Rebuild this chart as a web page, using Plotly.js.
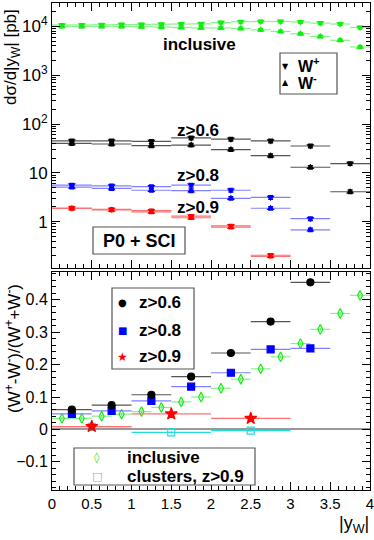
<!DOCTYPE html>
<html>
<head>
<meta charset="utf-8">
<script src="https://cdn.plot.ly/plotly-3.0.1.min.js"></script>
<style>html,body{margin:0;padding:0;background:#fff;}#chart{width:374px;height:540px;}</style>
</head>
<body>
<div id="chart"></div>
<script>
// ---------- data ----------
const xIncl = [0.125, 0.375, 0.625, 0.875, 1.125, 1.375, 1.625, 1.875, 2.125, 2.375, 2.625, 2.875, 3.125, 3.375, 3.625, 3.875];
const inclWp = [1.07e4, 1.07e4, 1.08e4, 1.09e4, 1.10e4, 1.11e4, 1.12e4, 1.13e4, 1.20e4, 1.25e4, 1.26e4, 1.26e4, 1.23e4, 1.17e4, 1.12e4, 9.5e3];
const inclWm = [1.00e4, 1.00e4, 1.00e4, 1.00e4, 9.9e3, 9.7e3, 9.5e3, 9.3e3, 9.3e3, 9.1e3, 8.5e3, 7.9e3, 7.1e3, 6.2e3, 5.2e3, 3.8e3];

const xHalf = [0.25, 0.75, 1.25, 1.75, 2.25, 2.75, 3.25, 3.75];
const z06Wp = [45, 45, 44, 52, 49, 45, 35.5, 15.5];
const z06Wm = [40, 39, 36, 37, 30, 22.5, 13, 4.1];
const z08Wp = [5.6, 5.4, 5.2, 5.6, 4.4, 3.14, 1.15];
const z08Wm = [5.1, 4.8, 4.4, 4.3, 3.0, 1.88, 0.68];
const z09Wp = [1.9, 1.78, 1.68, 1.3, 0.82, 0.205];
const z09Wm = [1.86, 1.74, 1.58, 1.2, 0.77, 0.195];

// asymmetries
const asymZ06 = [0.061, 0.075, 0.107, 0.163, 0.236, 0.333, 0.454];
const asymZ08 = [0.048, 0.057, 0.088, 0.132, 0.175, 0.247, 0.250];
const xUnit = [0.5, 1.5, 2.5];
const asymZ09 = [0.009, 0.048, 0.034];
const asymIncl = [0.034, 0.034, 0.041, 0.047, 0.055, 0.068, 0.085, 0.100, 0.127, 0.155, 0.187, 0.224, 0.265, 0.309, 0.358, 0.414];
const asymClus = [0.008, -0.009, -0.004];

// tick labels
const xTickVals = [0, 0.5, 1, 1.5, 2, 2.5, 3, 3.5, 4];
const xTickText = ['0', '0.5', '1', '1.5', '2', '2.5', '3', '3.5', '4'];
const logTickVals = [1, 10, 100, 1000, 10000];
const logTickText = ['1', '10', '10<sup>2</sup>', '10<sup>3</sup>', '10<sup>4</sup>'];

// ---------- helpers ----------
const FONT = 'Liberation Sans, Arial, Helvetica, sans-serif';
const px = v => (v - 52) / 318;
const py = v => (490 - v) / 487;
const GREEN = '#11ee11', GREEN_L = '#88f088';
const BLUE = '#0000ff', BLUE_L = '#8080ff';
const RED = '#ff0000', RED_L = '#ff7070';
const CYAN = '#22dddd';

function topTrace(x, y, sym, col, colL, hw, pct) {
  return {
    x: x.slice(0, y.length), y: y, xaxis: 'x2', yaxis: 'y2', mode: 'markers', type: 'scatter',
    marker: {symbol: sym, size: 7, color: col},
    error_x: {type: 'constant', value: hw, width: 0, thickness: 1.2, color: colL},
    error_y: {type: 'percent', value: pct, width: 2.5, thickness: 1.5, color: col},
    showlegend: false, hoverinfo: 'skip'
  };
}
function botTrace(x, y, sym, col, colL, hw, size, ey) {
  return {
    x: x.slice(0, y.length), y: y, xaxis: 'x', yaxis: 'y', mode: 'markers', type: 'scatter',
    marker: {symbol: sym, size: size, color: col, line: {color: col, width: 1.2}},
    error_x: {type: 'constant', value: hw, width: 0, thickness: 1.2, color: colL},
    error_y: {type: 'constant', value: ey, width: 0, thickness: 1, color: col},
    showlegend: false, hoverinfo: 'skip'
  };
}

const traces = [
  topTrace(xIncl, inclWp, 'triangle-down', GREEN, GREEN_L, 0.125, 6),
  topTrace(xIncl, inclWm, 'triangle-up', GREEN, GREEN_L, 0.125, 6),
  topTrace(xHalf, z06Wp, 'triangle-down', '#000000', '#555555', 0.25, 8),
  topTrace(xHalf, z06Wm, 'triangle-up', '#000000', '#555555', 0.25, 8),
  topTrace(xHalf, z08Wp, 'triangle-down', BLUE, BLUE_L, 0.25, 8),
  topTrace(xHalf, z08Wm, 'triangle-up', BLUE, BLUE_L, 0.25, 8),
  topTrace(xHalf, z09Wp, 'triangle-down', RED, RED_L, 0.25, 7),
  topTrace(xHalf, z09Wm, 'triangle-up', RED, RED_L, 0.25, 7),

  botTrace(xIncl, asymIncl, 'diamond-tall-open', GREEN, GREEN_L, 0.125, 7, 0.004),
  botTrace(xUnit, asymClus, 'square-open', CYAN, CYAN, 0.5, 7, 0.004),
  botTrace(xUnit, asymZ09, 'star', RED, RED_L, 0.5, 9, 0.005),
  botTrace(xHalf, asymZ08, 'square', BLUE, BLUE_L, 0.25, 7, 0.004),
  botTrace(xHalf, asymZ06, 'circle', '#000000', '#555555', 0.25, 7, 0.004)
];

// minor ticks on log axis
const logMinor = [];
[0.1, 1, 10, 100, 1000, 10000].forEach(d => { for (let k = 2; k <= 9; k++) logMinor.push(d * k); });

const axisCommon = {
  showline: true, linecolor: '#000', linewidth: 1, mirror: 'allticks',
  ticks: 'inside', tickcolor: '#000', ticklen: 8, tickwidth: 1,
  showgrid: false, zeroline: false, ticklabeloverflow: 'allow',
  tickfont: {family: FONT, size: 16, color: '#000'}
};

const layout = {
  width: 374, height: 540,
  margin: {l: 52, r: 4, t: 3, b: 50},
  paper_bgcolor: '#fff', plot_bgcolor: '#fff',
  showlegend: false,
  font: {family: FONT, color: '#000'},
  xaxis: Object.assign({}, axisCommon, {
    anchor: 'y', range: [0, 4],
    tickmode: 'array', tickvals: xTickVals, ticktext: xTickText,
    minor: {dtick: 0.1, tick0: 0, ticks: 'inside', ticklen: 4, tickcolor: '#000'},
    tickfont: {family: FONT, size: 15, color: '#000'}
  }),
  yaxis: Object.assign({}, axisCommon, {
    domain: [0, py(272)], anchor: 'x', range: [-0.187, 0.486], tick0: 0, dtick: 0.1,
    minor: {dtick: 0.02, ticks: 'inside', ticklen: 4, tickcolor: '#000'},
    zeroline: true, zerolinecolor: '#999', zerolinewidth: 2
  }),
  xaxis2: Object.assign({}, axisCommon, {
    anchor: 'y2', matches: 'x', range: [0, 4], tick0: 0, dtick: 0.5, showticklabels: false,
    minor: {dtick: 0.1, ticks: 'inside', ticklen: 4, tickcolor: '#000'}
  }),
  yaxis2: Object.assign({}, axisCommon, {
    domain: [py(268), 1], anchor: 'x2', type: 'log', range: [-0.95, 4.48],
    tickmode: 'array', tickvals: logTickVals, ticktext: logTickText,
    minor: {tickmode: 'array', tickvals: logMinor, ticks: 'inside', ticklen: 4, tickcolor: '#000'},
    tickfont: {family: FONT, size: 17, color: '#000'}
  }),
  shapes: [
    {type: 'rect', xref: 'paper', yref: 'paper', x0: px(93), x1: px(185), y0: py(254), y1: py(227), line: {color: '#555', width: 1.2}, fillcolor: '#fff', layer: 'above'},
    {type: 'rect', xref: 'paper', yref: 'paper', x0: px(280), x1: px(337), y0: py(94), y1: py(53), line: {color: '#555', width: 1.2}, fillcolor: '#fff', layer: 'above'},
    {type: 'rect', xref: 'paper', yref: 'paper', x0: px(112), x1: px(194), y0: py(369), y1: py(288), line: {color: '#555', width: 1.2}, fillcolor: '#fff', layer: 'above'},
    {type: 'rect', xref: 'paper', yref: 'paper', x0: px(74), x1: px(255), y0: py(485), y1: py(448), line: {color: '#555', width: 1.2}, fillcolor: '#fff', layer: 'above'}
  ],
  annotations: []
};

function ann(text, x, y, opts) {
  return Object.assign({
    text: text, xref: 'paper', yref: 'paper', x: px(x), y: py(y),
    xanchor: 'center', yanchor: 'middle', showarrow: false,
    font: {family: FONT, size: 17, color: '#000'}
  }, opts || {});
}

layout.annotations.push(
  ann('<b>inclusive</b>', 199, 45),
  ann('<b>z>0.6</b>', 198, 130),
  ann('<b>z>0.8</b>', 198, 175),
  ann('<b>z>0.9</b>', 198, 207),
  ann('<b>P0 + SCI</b>', 139, 241, {font: {family: FONT, size: 18, color: '#000'}}),
  // top legend
  ann('▼', 285, 67, {font: {family: 'DejaVu Sans', size: 8, color: '#000'}}),
  ann('▲', 285, 82, {font: {family: 'DejaVu Sans', size: 8, color: '#000'}}),
  ann('<b>W<sup>+</sup></b>', 296, 65, {xanchor: 'left', font: {family: FONT, size: 16, color: '#000'}}),
  ann('<b>W<sup>-</sup></b>', 296, 82, {xanchor: 'left', font: {family: FONT, size: 16, color: '#000'}}),
  // bottom legend 1
  ann('●', 122.7, 302.7, {font: {family: 'DejaVu Sans', size: 10, color: '#000'}}),
  ann('■', 122.7, 330, {font: {family: 'DejaVu Sans', size: 10, color: BLUE}}),
  ann('★', 122.7, 356.7, {font: {family: 'DejaVu Sans', size: 12, color: RED}}),
  ann('<b>z>0.6</b>', 136.7, 302.7, {xanchor: 'left'}),
  ann('<b>z>0.8</b>', 136.7, 330, {xanchor: 'left'}),
  ann('<b>z>0.9</b>', 136.7, 356.7, {xanchor: 'left'}),
  // bottom legend 2
  ann('◊', 97.3, 457.3, {font: {family: 'DejaVu Sans', size: 11, color: GREEN}}),
  ann('□', 97.3, 476, {font: {family: 'DejaVu Sans', size: 11, color: CYAN}}),
  ann('<b>inclusive</b>', 125, 457.3, {xanchor: 'left'}),
  ann('<b>clusters, z>0.9</b>', 125, 476, {xanchor: 'left'}),
  // axis titles
  ann('dσ/d|y<sub>W</sub>| [pb]', 12, 57, {textangle: -90, font: {family: FONT, size: 17, color: '#000'}}),
  ann('(W<sup>+</sup>-W<sup>-</sup>)/(W<sup>+</sup>+W<sup>-</sup>)', 13, 349, {textangle: -90, font: {family: FONT, size: 17, color: '#000'}}),
  ann('|y<sub>W</sub>|', 354, 524, {font: {family: FONT, size: 18, color: '#000'}})
);

Plotly.newPlot('chart', traces, layout, {staticPlot: true, displayModeBar: false});
</script>
</body>
</html>
